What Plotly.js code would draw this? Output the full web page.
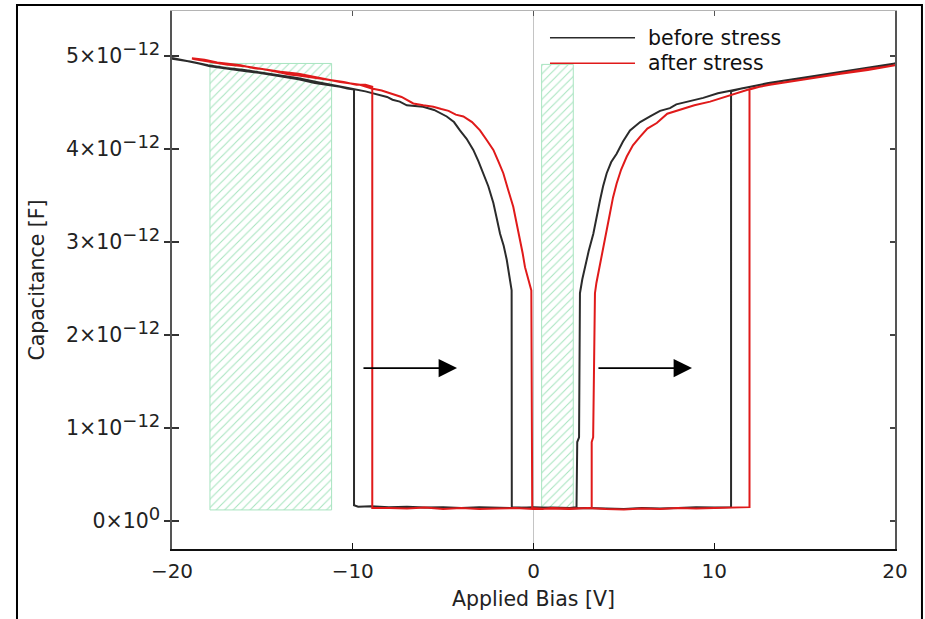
<!DOCTYPE html>
<html><head><meta charset="utf-8">
<script src="https://cdn.plot.ly/plotly-3.0.1.min.js"></script>
<style>html,body{margin:0;padding:0;background:#fff}#chart{width:925px;height:619px}</style>
</head><body><div id="chart"></div><script>
// ---- data (capacitance in units of 1e-12 F) ----
const seriesNames = ['before stress', 'after stress'];

const beforeV = [
 -20, -19.2, -18.5, -17.9, -17, -16, -15.2, -14.6, -13.8, -13, -12.1, -11.3, -10.7, -10.3, -9.93,
 -9.93, -9.7, -9, -8, -7, -6, -5, -4, -3, -2, -1, 0, 1, 2, 3, 4, 5, 6, 7, 8, 9, 10, 10.93,
 10.93, 11.5, 12.3, 13.08, 14, 15, 16, 17, 18.5, 19.3, 20,
 19.3, 18.5, 17, 16, 15, 14, 13, 12, 11.05, 10.2, 9.39, 8.5, 7.9, 7.55, 7.0, 6.45, 5.9, 5.34, 4.95, 4.60, 4.3, 4.05, 3.85, 3.68, 3.5, 3.31, 3.05, 2.85, 2.7, 2.57,
 2.52, 2.42, 2.38,
 2, 1, 0, -1, -1.2,
 -1.21, -1.35, -1.48, -1.65, -1.85, -2.05, -2.22, -2.5, -2.78, -3.05, -3.33, -3.7, -4.07, -4.4, -4.80, -5.1, -5.5, -6.11, -6.6, -7.01, -7.4, -7.8, -8.1, -8.49, -8.9, -9.3, -9.98, -10.7, -11.4, -12, -13, -14, -15, -16, -17, -18, -19, -20
];
const beforeC = [
 4.98, 4.95, 4.92, 4.89, 4.87, 4.84, 4.82, 4.80, 4.77, 4.75, 4.71, 4.69, 4.67, 4.65, 4.64,
 0.17, 0.155, 0.16, 0.15, 0.155, 0.145, 0.15, 0.14, 0.15, 0.145, 0.14, 0.15, 0.14, 0.135, 0.14, 0.135, 0.13, 0.14, 0.135, 0.14, 0.15, 0.145, 0.15,
 4.62, 4.65, 4.68, 4.71, 4.74, 4.76, 4.79, 4.82, 4.86, 4.89, 4.92,
 4.90, 4.87, 4.83, 4.80, 4.77, 4.74, 4.71, 4.67, 4.63, 4.60, 4.55, 4.51, 4.48, 4.44, 4.41, 4.35, 4.29, 4.20, 4.08, 3.95, 3.86, 3.74, 3.60, 3.45, 3.27, 3.09, 2.90, 2.73, 2.60, 2.45,
 0.90, 0.85, 0.15,
 0.14, 0.145, 0.14, 0.15, 0.15,
 2.48, 2.66, 2.81, 2.96, 3.09, 3.27, 3.42, 3.60, 3.74, 3.87, 3.99, 4.11, 4.20, 4.29, 4.35, 4.38, 4.42, 4.455, 4.46, 4.47, 4.51, 4.53, 4.56, 4.58, 4.60, 4.62, 4.645, 4.67, 4.70, 4.72, 4.76, 4.79, 4.82, 4.85, 4.87, 4.90, 4.94, 4.97
];

const afterV = [
 -18.9, -18.2, -17.5, -17, -16.2, -15.5, -15, -14.2, -13.5, -13, -12.2, -11.3, -10.5, -9.8, -9.3, -8.92,
 -8.92, -8, -7, -6, -5, -4, -3, -2, -1, 0, 1, 2, 3, 4, 5, 6, 7, 8, 9, 10, 11, 11.95,
 11.95, 12.5, 13.08, 14, 15, 16, 17, 18.5, 19.3, 20,
 19.3, 18.5, 17, 16, 15, 14, 13, 12.07, 11.24, 10.5, 9.77, 8.9, 8.10, 7.4, 6.82, 6.3, 5.89, 5.5, 5.16, 4.85, 4.60, 4.4, 4.23, 4.05, 3.86, 3.7, 3.59, 3.48, 3.40,
 3.30, 3.22, 3.22,
 2, 1, 0.5, -0.07,
 -0.12, -0.3, -0.47, -0.6, -0.75, -0.95, -1.12, -1.4, -1.67, -1.95, -2.22, -2.6, -2.96, -3.4, -3.88, -4.3, -4.7, -5.1, -5.54, -6.1, -6.65, -7.3, -7.94, -8.4, -8.95, -9.6, -10.7, -11.5, -12, -13, -14, -15, -16, -17, -18, -18.9
];
const afterC = [
 4.975, 4.96, 4.93, 4.92, 4.90, 4.87, 4.86, 4.83, 4.80, 4.79, 4.77, 4.74, 4.72, 4.69, 4.69, 4.67,
 0.14, 0.14, 0.135, 0.145, 0.13, 0.14, 0.13, 0.135, 0.14, 0.13, 0.135, 0.13, 0.14, 0.13, 0.125, 0.135, 0.13, 0.14, 0.135, 0.14, 0.145, 0.15,
 4.64, 4.67, 4.69, 4.72, 4.75, 4.78, 4.81, 4.85, 4.88, 4.90,
 4.88, 4.86, 4.81, 4.78, 4.75, 4.72, 4.69, 4.65, 4.60, 4.56, 4.51, 4.47, 4.42, 4.38, 4.28, 4.22, 4.13, 4.04, 3.92, 3.78, 3.63, 3.48, 3.31, 3.13, 2.95, 2.80, 2.66, 2.56, 2.45,
 0.90, 0.85, 0.14,
 0.135, 0.14, 0.13, 0.14,
 2.48, 2.60, 2.73, 2.88, 3.02, 3.20, 3.38, 3.56, 3.74, 3.87, 3.99, 4.10, 4.20, 4.29, 4.35, 4.37, 4.41, 4.43, 4.455, 4.47, 4.49, 4.56, 4.60, 4.63, 4.65, 4.69, 4.72, 4.75, 4.77, 4.81, 4.83, 4.86, 4.89, 4.91, 4.94, 4.97
];

// hatched regions
const hatchX0 = [-17.9, 0.45];
const hatchX1 = [-11.17, 2.2];
const hatchY0 = [0.12, 0.14];
const hatchY1 = [4.92, 4.91];

// arrows (shift of the curves)
const arrowFrom = [-9.49, 3.51];
const arrowTo = [-4.23, 8.77];
const arrowLevel = [1.645, 1.645];

// axes
const xTickVals = [-20, -10, 0, 10, 20];
const xTickText = ['\u221220', '\u221210', '0', '10', '20'];
const yTickVals = [0, 1, 2, 3, 4, 5];
const SUP = (s) => '<sup><span style="font-size:18px">' + s + '</span></sup>';
const yTickText = ['0\u00d710' + SUP('0'), '1\u00d710' + SUP('\u221212'), '2\u00d710' + SUP('\u221212'),
                   '3\u00d710' + SUP('\u221212'), '4\u00d710' + SUP('\u221212'), '5\u00d710' + SUP('\u221212')];

const colBefore = '#2b2b2b';
const colAfter = '#e01a1a';
const hatchCol = '#a8e4c0';
const FONT = 'DejaVu Sans, sans-serif';

const traces = [];
for (let i = 0; i < hatchX0.length; i++) {
  traces.push({
    x: [hatchX0[i], hatchX1[i], hatchX1[i], hatchX0[i], hatchX0[i]],
    y: [hatchY0[i], hatchY0[i], hatchY1[i], hatchY1[i], hatchY0[i]],
    mode: 'lines', fill: 'toself', fillcolor: 'rgba(255,255,255,0)',
    fillpattern: {shape: '/', fgcolor: hatchCol, bgcolor: 'rgba(255,255,255,0)', size: 6, solidity: 0.18},
    line: {color: hatchCol, width: 1}, showlegend: false, hoverinfo: 'skip'
  });
}
traces.push({x: beforeV, y: beforeC, mode: 'lines', name: seriesNames[0],
  line: {color: colBefore, width: 2}, showlegend: false});
traces.push({x: afterV, y: afterC, mode: 'lines', name: seriesNames[1],
  line: {color: colAfter, width: 2}, showlegend: false});
// empty traces so overlay axes get drawn
traces.push({x: [], y: [], xaxis: 'x2', yaxis: 'y', showlegend: false, hoverinfo: 'skip'});
traces.push({x: [], y: [], xaxis: 'x', yaxis: 'y2', showlegend: false, hoverinfo: 'skip'});
traces.push({x: [], y: [], xaxis: 'x', yaxis: 'y3', showlegend: false, hoverinfo: 'skip'});

const annotations = [];
for (let i = 0; i < arrowFrom.length; i++) {
  annotations.push({x: arrowTo[i], y: arrowLevel[i], ax: arrowFrom[i], ay: arrowLevel[i],
    xref: 'x', yref: 'y', axref: 'x', ayref: 'y', text: '', showarrow: true,
    arrowhead: 2, arrowsize: 2.3, arrowwidth: 1.6, arrowcolor: '#000', standoff: 0});
}
// manual legend
const legY = [0.9504, 0.9028];
const legCol = [colBefore, colAfter];
const shapes = [];
for (let i = 0; i < 2; i++) {
  shapes.push({type: 'line', xref: 'paper', yref: 'paper', x0: 0.5228, x1: 0.6404, y0: legY[i], y1: legY[i],
    line: {color: legCol[i], width: 1.6}});
  annotations.push({xref: 'paper', yref: 'paper', x: 0.6556, y: legY[i], xanchor: 'left', yanchor: 'middle',
    text: seriesNames[i], showarrow: false, font: {family: FONT, size: 20.5, color: '#111'}});
}
// outer frame of the figure
shapes.push({type: 'rect', xref: 'paper', yref: 'paper', x0: -0.2144, x1: 1.0373, y0: -0.16, y1: 1.0112,
  line: {color: '#000', width: 2}, fillcolor: 'rgba(0,0,0,0)'});

const layout = {
  width: 925, height: 619,
  margin: {l: 172, r: 30, t: 11, b: 70, pad: 0},
  paper_bgcolor: '#fff', plot_bgcolor: '#fff',
  font: {family: FONT, size: 20, color: '#222'},
  showlegend: false,
  xaxis: {range: [-20, 20], tickvals: xTickVals, ticktext: xTickText, showgrid: false,
    zeroline: true, zerolinecolor: '#c4c4c4', zerolinewidth: 1,
    showline: true, linecolor: '#111', linewidth: 2.2, ticks: 'inside', ticklen: 6, tickwidth: 1.3, tickcolor: '#111',
    ticklabelstandoff: 3, tickfont: {family: FONT, size: 20, color: '#222'},
    title: {text: 'Applied Bias [V]', font: {family: FONT, size: 20.5, color: '#222'}, standoff: 10}},
  xaxis2: {range: [-20, 20], overlaying: 'x', side: 'top', anchor: 'y', tickvals: xTickVals, showticklabels: false,
    showgrid: false, zeroline: false, showline: true, linecolor: '#b4b4b4', linewidth: 1.5,
    ticks: 'inside', ticklen: 5, tickwidth: 1.2, tickcolor: '#555'},
  yaxis: {range: [-0.30, 5.484], tickvals: yTickVals, ticktext: yTickText, showgrid: false, zeroline: false,
    showline: true, linecolor: '#555', linewidth: 1.6, ticks: 'outside', ticklen: 6, tickwidth: 1.3, tickcolor: '#333',
    tickfont: {family: FONT, size: 20.5, color: '#222'},
    title: {text: 'Capacitance [F]', font: {family: FONT, size: 20.5, color: '#222'}, standoff: 16}},
  yaxis2: {range: [-0.30, 5.484], overlaying: 'y', side: 'left', anchor: 'x', tickvals: yTickVals, showticklabels: false,
    showgrid: false, zeroline: false, showline: false, ticks: 'inside', ticklen: 7, tickwidth: 1.3, tickcolor: '#333'},
  yaxis3: {range: [-0.30, 5.484], overlaying: 'y', side: 'right', anchor: 'x', tickvals: yTickVals, showticklabels: false,
    showgrid: false, zeroline: false, showline: true, linecolor: '#555', linewidth: 1.6,
    ticks: 'inside', ticklen: 5, tickwidth: 1.2, tickcolor: '#444'},
  shapes: shapes,
  annotations: annotations
};

Plotly.newPlot('chart', traces, layout, {displayModeBar: false, staticPlot: true});
</script></body></html>
